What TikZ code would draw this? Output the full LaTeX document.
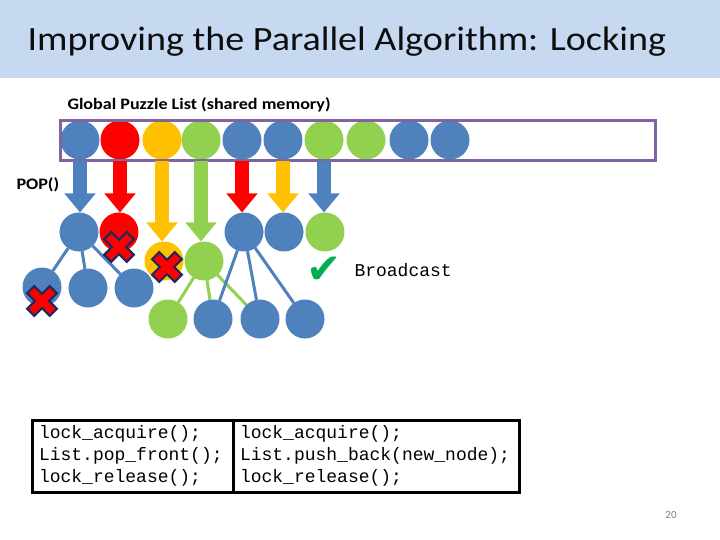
\documentclass[tikz,border=0pt]{standalone}
\usepackage{fontspec}
\setmainfont{Carlito}
\newfontfamily\codefont{Liberation Mono}
\newfontfamily\symfont{DejaVu Sans}
\usetikzlibrary{arrows.meta,backgrounds}
\definecolor{lblue}{HTML}{4F81BD}
\definecolor{lred}{HTML}{FF0000}
\definecolor{lyellow}{HTML}{FFC000}
\definecolor{lgreen}{HTML}{92D050}
\definecolor{lpurple}{HTML}{8064A2}
\definecolor{titlebar}{HTML}{C6D9F1}
\definecolor{crossnavy}{HTML}{1F2A5C}
\definecolor{checkgreen}{HTML}{00B050}
\newcommand{\wide}[1]{\scalebox{1.13}[1]{#1}}
\tikzset{
	ball/.style={circle,fill=#1,minimum size=39pt,inner sep=0pt,outer sep=0pt},
	pop/.style={line width=14pt,#1,-{Triangle[width=30pt,length=19pt]}},
	branch/.style={#1,line width=3pt},
	label text/.style={anchor=west,font=\fontsize{16}{18}\selectfont\bfseries},
	codebox/.style={draw,line width=3pt,outer sep=0pt,minimum height=72pt,
		inner xsep=7pt,align=left,font=\codefont\fontsize{18}{22}\selectfont},
	cross/.pic={\filldraw[fill=lred,draw=crossnavy,line width=2.2pt,rotate=45]
		(5,5)--(16,5)--(16,-5)--(5,-5)--(5,-16)--(-5,-16)--(-5,-5)--(-16,-5)
		--(-16,5)--(-5,5)--(-5,16)--(5,16)--cycle;}
}
\begin{document}
\begin{tikzpicture}[x=1pt,y=-1pt]
	\useasboundingbox (0,0) rectangle (720,540);
	\fill[titlebar] (0,0) rectangle (720,78);
	\node[anchor=west,font=\fontsize{34}{40}\selectfont,text=black!95] (title) at (24,42) {\scalebox{1.12}[1]{Improving the Parallel Algorithm: Locking}};
	
	% liste globale
	\node[label text] (listlabel) at (64,105) {\wide{Global Puzzle List (shared memory)}};
	\foreach \x/\c [count=\i] in {80/lblue,120/lred,162/lyellow,201/lgreen,242/lblue,283/lblue,324/lgreen,366/lgreen,409/lblue,450/lblue}{
		\node[ball=\c] (t\i) at (\x,140) {}; }
	\node[draw=lpurple,line width=3pt,minimum width=595pt,minimum height=40pt,outer sep=0pt] (list) at (357.5,141) {};
	
	\node[label text] (poplabel) at (13,185) {\wide{POP()}};
	
	% noeuds retires
	\foreach \x/\y/\c [count=\i] in {79/232/lblue,119/232/lred,164/261/lyellow,204/261/lgreen,244/232/lblue,284/232/lblue,325/232/lgreen}{
		\node[ball=\c] (p\i) at (\x,\y) {}; }
	% fils
	\foreach \x/\y/\c [count=\i] in {42/287/lblue,88/288/lblue,134/288/lblue,168/319/lgreen,213/319/lblue,260/319/lblue,305/319/lblue}{
		\node[ball=\c] (c\i) at (\x,\y) {}; }
	
	\begin{scope}[on background layer]
		\foreach \j in {1,2,3}{
			\draw[branch=lblue] (p1) -- (c\j); }
		\foreach \j in {4,5,6}{
			\draw[branch=lgreen] (p4) -- (c\j); }
		\foreach \j in {5,6,7}{
			\draw[branch=lblue] (p5) -- (c\j); }
	\end{scope}
	
	\foreach \c [count=\i] in {lblue,lred,lyellow,lgreen,lred,lyellow,lblue}{
		\draw[pop=\c] (t\i |- list.south) -- (t\i |- p\i.north); }
	
	% conflits
	\pic at (119,247) {cross};
	\pic at (167,267) {cross};
	\pic at (42,301) {cross};
	
	\node[text=checkgreen,font=\symfont\fontsize{42}{42}\selectfont] (check) at (324,270) {✔};
	\node[anchor=west,font=\codefont\fontsize{18}{20}\selectfont] (broadcast) at (351,270) {Broadcast};
	
	% code
	\node[codebox,minimum width=201pt,text width=187pt,anchor=north west] (popcode) at (32,420) {lock\_acquire();\\List.pop\_front();\\lock\_release();};
	\node[codebox,minimum width=286pt,text width=272pt,anchor=west] (pushcode) at (popcode.east) {lock\_acquire();\\List.push\_back(new\_node);\\lock\_release();};
	
	\node[text=gray,font=\fontsize{11}{12}\selectfont] (pagenum) at (671,515) {20};
\end{tikzpicture}
\end{document}
